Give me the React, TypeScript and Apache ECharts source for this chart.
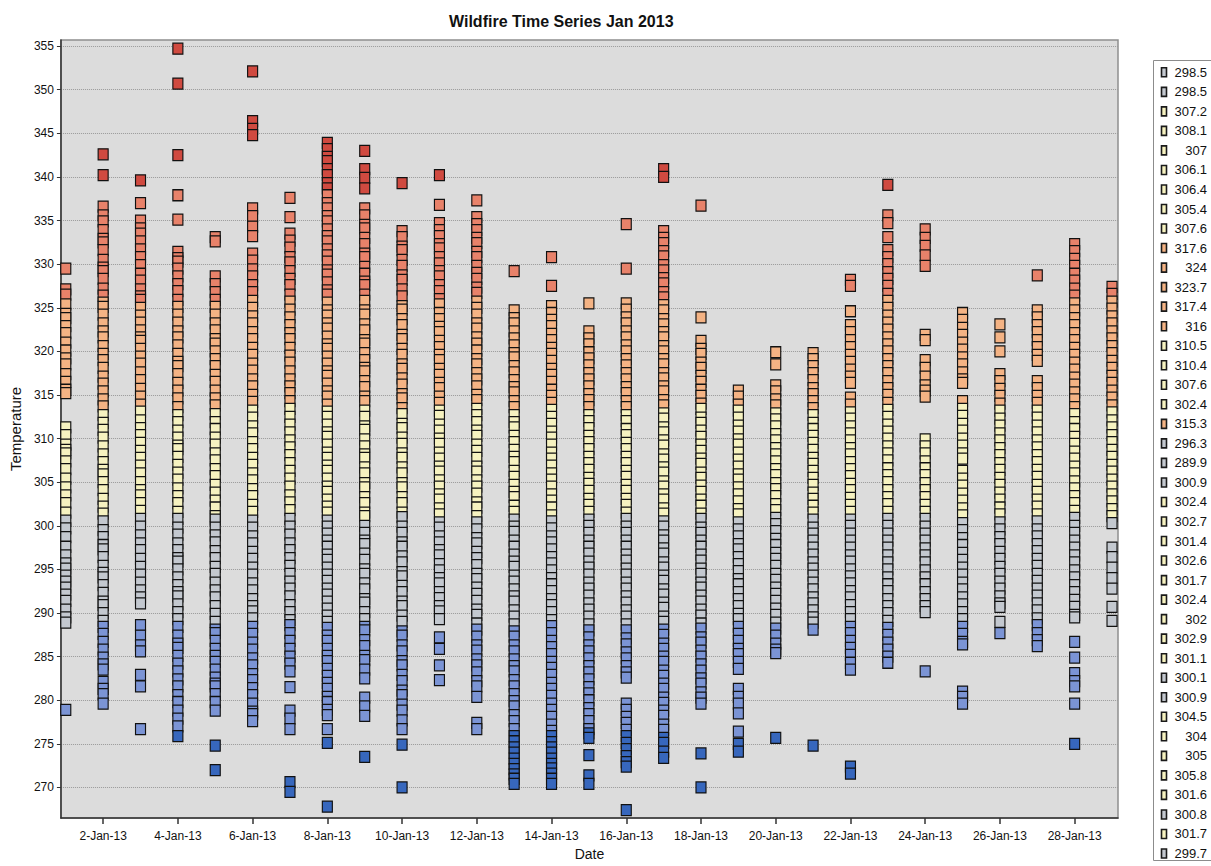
import React, { useEffect, useRef } from "react";
import * as echarts from "echarts";

// Temperature readings per day of January 2013
const jan01 = [329.5, 327.1, 326.5, 325.4, 324.3, 323.8, 322.9, 322.1, 321.0, 320.1, 319.2, 318.5, 317.4, 316.5, 315.6, 315.2, 311.3, 310.4, 309.3, 308.7, 308.3, 307.4, 306.5, 305.4, 304.4, 303.5, 302.6, 301.5, 300.6, 299.7, 298.7, 297.6, 296.6, 295.7, 295.1, 294.3, 293.6, 292.9, 292.1, 291.4, 290.4, 289.5, 288.9, 278.9];
const jan02 = [342.6, 340.2, 336.6, 335.6, 334.9, 333.9, 332.9, 332.5, 331.6, 330.5, 329.6, 329.2, 328.3, 327.2, 326.4, 325.6, 325.1, 324.2, 323.2, 322.3, 321.6, 320.6, 319.7, 319.0, 318.1, 317.1, 316.3, 315.4, 314.5, 313.7, 312.7, 311.8, 311.0, 310.1, 309.1, 308.2, 307.3, 306.4, 305.9, 305.0, 304.1, 303.1, 302.2, 301.4, 300.5, 299.5, 298.7, 297.8, 297.3, 296.4, 295.4, 294.6, 294.1, 293.2, 292.3, 291.3, 290.9, 290.0, 289.1, 288.4, 287.6, 286.7, 285.8, 284.9, 284.1, 283.5, 282.1, 281.3, 280.7, 279.6];
const jan03 = [339.6, 337.0, 335.0, 334.1, 333.5, 332.6, 331.7, 330.8, 329.9, 328.9, 328.1, 327.1, 326.3, 325.9, 325.0, 324.1, 323.3, 322.4, 321.6, 321.2, 320.3, 319.4, 318.6, 317.6, 316.7, 315.7, 314.8, 313.9, 313.1, 312.1, 311.2, 310.4, 309.5, 308.6, 307.8, 306.9, 306.0, 305.0, 304.1, 303.5, 302.6, 301.7, 300.8, 299.9, 298.9, 298.0, 297.2, 296.2, 295.3, 294.4, 293.5, 292.6, 291.8, 291.1, 288.6, 287.4, 286.3, 285.6, 282.9, 281.6, 276.7];
const jan04 = [354.7, 350.7, 342.5, 337.9, 335.1, 331.4, 330.7, 330.3, 329.5, 328.6, 327.7, 326.9, 325.9, 325.1, 324.2, 323.3, 322.3, 321.6, 320.7, 319.7, 318.8, 318.3, 317.4, 316.4, 315.5, 314.6, 313.6, 312.7, 311.9, 310.9, 310.1, 309.2, 308.8, 307.9, 307.0, 306.1, 305.3, 304.3, 303.4, 302.6, 301.6, 300.8, 299.8, 299.0, 298.0, 297.2, 296.3, 295.9, 295.0, 294.1, 293.2, 292.4, 291.9, 291.0, 290.1, 289.3, 288.4, 287.4, 286.5, 286.0, 285.1, 284.2, 283.3, 282.4, 281.6, 280.6, 279.8, 278.8, 277.9, 277.0, 275.9];
const jan05 = [333.1, 332.6, 328.6, 327.7, 326.8, 325.9, 325.1, 324.2, 323.2, 322.4, 321.4, 320.9, 320.0, 319.1, 318.3, 317.3, 316.5, 315.5, 314.6, 313.8, 312.8, 311.9, 311.1, 310.1, 309.3, 308.3, 307.5, 306.5, 305.7, 304.7, 303.8, 302.9, 302.1, 301.1, 300.7, 299.8, 298.9, 298.1, 297.1, 296.3, 295.3, 294.5, 293.5, 292.6, 291.8, 290.8, 289.9, 289.0, 288.1, 287.7, 286.8, 285.9, 285.1, 284.4, 283.5, 282.6, 281.9, 281.6, 280.7, 279.8, 278.8, 274.8, 272.0];
const jan06 = [352.1, 346.4, 345.5, 344.8, 336.4, 335.5, 334.3, 333.2, 331.2, 330.4, 329.4, 328.6, 327.6, 326.8, 325.8, 325.0, 324.0, 323.2, 322.2, 321.4, 320.4, 319.6, 318.6, 317.8, 316.8, 316.0, 315.0, 314.2, 313.2, 312.4, 311.4, 310.6, 309.6, 308.8, 307.8, 307.0, 306.0, 305.2, 304.2, 303.4, 302.4, 301.6, 300.6, 299.8, 298.8, 298.0, 297.0, 296.2, 295.2, 294.4, 293.4, 292.6, 291.6, 290.8, 290.2, 289.4, 288.4, 287.6, 286.6, 285.8, 284.8, 284.0, 283.0, 282.3, 281.4, 280.6, 279.6, 278.7, 278.4, 277.6];
const jan07 = [337.6, 335.4, 333.5, 332.7, 331.9, 330.8, 330.2, 329.2, 328.3, 327.6, 326.5, 325.7, 324.8, 323.9, 323.0, 322.1, 321.4, 320.4, 319.5, 318.7, 317.7, 316.8, 316.0, 315.2, 314.3, 313.4, 312.5, 311.6, 310.7, 309.8, 309.0, 308.1, 307.2, 306.3, 305.4, 304.5, 303.5, 302.7, 301.8, 300.8, 299.9, 299.0, 298.0, 297.2, 296.3, 295.4, 294.5, 293.6, 292.8, 291.9, 290.9, 290.1, 289.2, 288.6, 287.7, 286.8, 285.9, 285.0, 284.2, 283.3, 281.5, 278.8, 277.9, 276.7, 270.6, 269.5];
const jan08 = [343.9, 343.2, 342.3, 341.8, 340.9, 340.2, 339.3, 338.7, 337.9, 337.0, 336.4, 335.5, 334.9, 334.0, 333.2, 332.6, 331.7, 331.0, 330.3, 329.3, 328.8, 327.9, 327.0, 326.5, 325.6, 324.7, 324.1, 323.2, 322.6, 321.7, 320.8, 320.3, 319.4, 318.6, 317.7, 317.2, 316.3, 315.4, 314.8, 313.9, 313.1, 312.5, 311.6, 310.7, 310.2, 309.3, 308.4, 307.8, 306.9, 306.3, 305.4, 304.5, 303.9, 303.0, 302.2, 301.5, 300.6, 299.9, 299.1, 298.3, 297.6, 296.7, 296.1, 295.2, 294.4, 293.7, 292.8, 292.1, 291.3, 290.5, 289.7, 289.0, 288.3, 287.4, 286.8, 285.9, 285.1, 284.5, 283.6, 282.8, 282.0, 281.3, 280.4, 279.8, 278.9, 278.3, 276.7, 275.1, 267.8];
const jan09 = [343.0, 340.9, 339.9, 338.7, 336.4, 335.6, 334.5, 334.1, 333.0, 332.3, 331.2, 330.8, 329.7, 328.9, 328.0, 327.6, 326.5, 325.8, 324.7, 324.2, 323.1, 322.4, 321.3, 320.9, 319.8, 319.0, 318.1, 317.7, 316.6, 315.9, 314.8, 314.3, 313.2, 312.5, 311.4, 311.0, 309.9, 309.1, 308.2, 307.8, 306.7, 306.0, 304.9, 304.4, 303.3, 302.6, 301.5, 301.1, 300.0, 299.2, 298.3, 297.9, 296.8, 296.1, 295.0, 294.5, 293.4, 292.7, 291.6, 291.2, 290.1, 289.3, 288.4, 288.0, 286.9, 286.2, 285.1, 284.6, 283.5, 282.5, 280.3, 279.3, 278.2, 273.5];
const jan10 = [339.3, 333.8, 333.1, 332.0, 331.6, 330.5, 329.8, 328.7, 328.2, 327.1, 326.3, 325.2, 324.8, 323.7, 323.0, 321.9, 321.4, 320.3, 319.6, 318.5, 318.0, 316.9, 316.2, 315.1, 314.6, 313.5, 312.8, 311.7, 311.2, 310.1, 309.4, 308.3, 307.8, 306.7, 306.0, 304.9, 304.4, 303.3, 302.6, 301.5, 301.0, 299.9, 299.2, 298.1, 297.6, 296.5, 295.8, 294.7, 294.2, 293.1, 292.4, 291.3, 290.8, 289.7, 289.0, 287.9, 287.4, 286.3, 285.6, 284.5, 284.0, 282.9, 282.2, 281.1, 280.6, 279.5, 278.8, 277.7, 276.7, 274.9, 270.0];
const jan11 = [340.2, 336.8, 334.7, 333.9, 333.2, 332.3, 331.8, 330.8, 330.1, 329.2, 328.6, 327.6, 326.9, 326.0, 325.4, 324.4, 323.7, 322.8, 322.2, 321.2, 320.5, 319.6, 319.0, 318.0, 317.3, 316.4, 315.8, 314.8, 314.1, 313.2, 312.6, 311.6, 310.9, 310.0, 309.4, 308.4, 307.7, 306.8, 306.2, 305.2, 304.5, 303.6, 303.0, 302.0, 301.3, 300.4, 299.8, 298.8, 298.1, 297.2, 296.6, 295.6, 294.9, 294.0, 293.4, 292.4, 291.7, 290.8, 290.2, 289.3, 287.2, 285.9, 284.0, 282.3];
const jan12 = [337.3, 335.4, 334.6, 333.9, 333.0, 332.4, 331.4, 330.8, 329.8, 329.0, 328.3, 327.3, 326.7, 325.7, 325.0, 324.2, 323.2, 322.6, 321.6, 320.9, 320.1, 319.1, 318.5, 317.5, 316.8, 316.0, 315.0, 314.4, 313.4, 312.7, 311.9, 310.9, 310.3, 309.3, 308.6, 307.8, 306.8, 306.2, 305.2, 304.5, 303.7, 302.7, 302.1, 301.1, 300.4, 299.6, 298.6, 298.0, 297.0, 296.3, 295.5, 294.5, 293.9, 292.9, 292.2, 291.4, 290.4, 289.8, 288.8, 288.1, 287.3, 286.3, 285.7, 284.7, 284.0, 283.2, 282.2, 281.6, 280.4, 277.4, 276.7];
const jan13 = [329.2, 324.7, 323.8, 323.2, 322.3, 321.5, 320.7, 319.8, 319.3, 318.3, 317.6, 316.7, 315.9, 315.3, 314.3, 313.6, 312.7, 311.9, 311.3, 310.3, 309.6, 308.7, 307.9, 307.3, 306.3, 305.6, 304.7, 303.9, 303.3, 302.3, 301.6, 300.7, 299.9, 299.3, 298.3, 297.6, 296.7, 295.9, 295.3, 294.3, 293.6, 292.7, 291.9, 291.3, 290.3, 289.6, 288.7, 287.9, 287.3, 286.3, 285.6, 284.7, 283.9, 283.3, 282.3, 281.6, 280.7, 279.9, 279.3, 278.3, 277.6, 276.7, 275.9, 275.3, 274.6, 274.0, 273.3, 272.7, 272.1, 271.5, 271.0, 270.4];
const jan14 = [330.8, 327.5, 325.2, 324.4, 323.6, 322.9, 322.0, 321.3, 320.4, 319.7, 318.9, 318.0, 317.3, 316.5, 315.6, 314.9, 314.1, 313.3, 312.5, 311.7, 310.8, 310.1, 309.3, 308.4, 307.7, 306.9, 306.0, 305.3, 304.5, 303.6, 302.9, 302.1, 301.2, 300.5, 299.7, 298.8, 298.1, 297.3, 296.4, 295.7, 294.9, 294.0, 293.3, 292.5, 291.6, 290.9, 290.1, 289.2, 288.5, 287.7, 286.8, 286.1, 285.3, 284.4, 283.7, 282.9, 282.0, 281.3, 280.5, 279.6, 278.9, 278.1, 277.2, 276.5, 275.9, 275.2, 274.6, 274.0, 273.3, 272.7, 272.2, 271.6, 271.0, 270.4];
const jan15 = [325.5, 322.3, 321.5, 320.8, 319.9, 319.2, 318.4, 317.5, 316.8, 316.0, 315.1, 314.4, 313.6, 312.7, 312.0, 311.2, 310.3, 309.6, 308.8, 307.9, 307.2, 306.4, 305.5, 304.8, 304.0, 303.1, 302.4, 301.6, 300.7, 300.0, 299.2, 298.3, 297.6, 296.8, 295.9, 295.2, 294.4, 293.5, 292.8, 292.0, 291.1, 290.4, 289.6, 288.7, 288.0, 287.2, 286.3, 285.6, 284.8, 283.9, 283.2, 282.4, 281.5, 280.8, 280.0, 279.1, 278.4, 277.6, 276.7, 276.2, 275.7, 273.7, 271.4, 270.4];
const jan16 = [334.6, 329.5, 325.5, 324.8, 323.9, 323.2, 322.3, 321.6, 320.7, 320.0, 319.1, 318.4, 317.5, 316.8, 315.9, 315.2, 314.3, 313.6, 312.7, 312.0, 311.1, 310.4, 309.5, 308.8, 307.9, 307.2, 306.3, 305.6, 304.7, 304.0, 303.1, 302.4, 301.5, 300.8, 299.9, 299.2, 298.3, 297.6, 296.7, 296.0, 295.1, 294.4, 293.5, 292.8, 291.9, 291.2, 290.3, 289.6, 288.7, 288.0, 287.1, 286.4, 285.5, 284.8, 283.9, 283.2, 282.6, 279.6, 278.9, 278.1, 277.4, 276.6, 275.9, 275.1, 274.4, 273.6, 272.9, 272.4, 267.4];
const jan17 = [340.9, 340.0, 333.8, 333.0, 332.4, 331.5, 330.9, 329.9, 329.3, 328.4, 327.8, 326.8, 326.2, 325.3, 324.7, 323.7, 323.1, 322.2, 321.6, 320.6, 320.0, 319.1, 318.5, 317.5, 316.9, 316.0, 315.4, 314.4, 313.8, 312.9, 312.3, 311.3, 310.7, 309.8, 309.2, 308.2, 307.6, 306.7, 306.1, 305.1, 304.5, 303.6, 303.0, 302.0, 301.4, 300.5, 299.9, 298.9, 298.3, 297.4, 296.8, 295.8, 295.2, 294.3, 293.7, 292.7, 292.1, 291.2, 290.6, 289.6, 289.0, 288.1, 287.5, 286.5, 285.9, 285.0, 284.4, 283.4, 282.8, 281.9, 281.3, 280.3, 279.7, 278.8, 278.2, 277.2, 276.6, 275.7, 275.1, 274.1, 273.4];
const jan18 = [336.7, 323.9, 321.2, 320.3, 319.7, 318.7, 318.1, 317.2, 316.5, 315.6, 314.9, 314.0, 313.4, 312.4, 311.8, 310.9, 310.2, 309.3, 308.6, 307.7, 307.1, 306.1, 305.5, 304.6, 303.9, 303.0, 302.3, 301.4, 300.8, 299.8, 299.2, 298.3, 297.6, 296.7, 296.0, 295.1, 294.5, 293.5, 292.9, 292.0, 291.3, 290.4, 289.7, 288.8, 288.2, 287.2, 286.6, 285.7, 285.0, 284.1, 283.4, 282.5, 281.9, 280.9, 280.3, 279.6, 273.9, 270.0];
const jan19 = [315.5, 314.8, 313.9, 313.2, 312.4, 311.5, 310.8, 309.9, 309.3, 308.4, 307.6, 306.8, 305.9, 305.3, 304.4, 303.6, 302.8, 301.9, 301.3, 300.4, 299.6, 298.8, 297.9, 297.3, 296.4, 295.6, 294.8, 293.9, 293.3, 292.4, 291.6, 290.8, 289.9, 289.3, 288.4, 287.6, 286.8, 285.9, 285.3, 284.4, 283.6, 281.3, 280.4, 279.6, 278.5, 276.4, 275.0, 274.1];
const jan20 = [319.9, 318.5, 316.1, 315.4, 314.5, 313.8, 312.9, 312.2, 311.4, 310.5, 309.8, 308.9, 308.2, 307.4, 306.5, 305.8, 304.9, 304.2, 303.4, 302.5, 301.8, 300.9, 300.2, 299.4, 298.5, 297.8, 296.9, 296.2, 295.4, 294.5, 293.8, 292.9, 292.2, 291.4, 290.5, 289.8, 288.9, 288.2, 287.4, 286.5, 285.8, 285.4, 275.7];
const jan21 = [319.8, 319.1, 318.3, 317.5, 316.7, 315.8, 315.1, 314.3, 313.5, 312.7, 311.8, 311.1, 310.3, 309.5, 308.7, 307.8, 307.1, 306.3, 305.5, 304.7, 303.8, 303.1, 302.3, 301.5, 300.7, 299.8, 299.1, 298.3, 297.5, 296.7, 295.8, 295.1, 294.3, 293.5, 292.7, 291.8, 291.1, 290.3, 289.5, 288.9, 288.1, 274.8];
const jan22 = [328.2, 327.5, 324.6, 323.0, 322.2, 321.3, 320.5, 319.6, 318.8, 317.9, 317.1, 316.4, 314.7, 313.9, 313.0, 312.3, 311.4, 310.6, 309.8, 308.9, 308.2, 307.3, 306.5, 305.7, 304.8, 304.1, 303.2, 302.4, 301.6, 300.7, 300.0, 299.1, 298.3, 297.5, 296.6, 295.9, 295.0, 294.2, 293.4, 292.5, 291.8, 290.9, 290.1, 289.3, 288.4, 287.7, 286.8, 286.0, 285.2, 284.3, 283.5, 272.4, 271.6];
const jan23 = [339.1, 335.6, 334.7, 333.1, 331.6, 330.8, 330.0, 329.1, 328.3, 327.5, 326.6, 325.8, 325.0, 324.1, 323.3, 322.5, 321.6, 320.8, 320.0, 319.1, 318.3, 317.5, 316.6, 315.8, 315.0, 314.1, 313.3, 312.5, 311.6, 310.8, 310.0, 309.1, 308.3, 307.5, 306.6, 305.8, 305.0, 304.1, 303.3, 302.5, 301.6, 300.8, 300.0, 299.1, 298.3, 297.5, 296.6, 295.8, 295.0, 294.1, 293.3, 292.5, 291.6, 290.8, 290.0, 289.1, 288.3, 287.5, 286.6, 285.8, 285.0, 284.3];
const jan24 = [334.0, 333.0, 332.1, 331.0, 329.8, 321.9, 321.3, 319.0, 318.1, 317.1, 316.1, 315.5, 314.8, 309.9, 309.1, 308.3, 307.4, 306.6, 305.8, 304.9, 304.1, 303.3, 302.4, 301.6, 300.8, 299.9, 299.1, 298.3, 297.4, 296.6, 295.8, 294.9, 294.1, 293.3, 292.4, 291.6, 290.8, 290.1, 283.3];
const jan25 = [324.4, 323.6, 322.7, 321.9, 321.0, 320.2, 319.3, 318.5, 317.6, 316.8, 316.4, 314.3, 313.4, 312.6, 311.7, 310.9, 310.0, 309.2, 308.3, 307.7, 306.3, 305.4, 304.6, 303.7, 302.9, 302.0, 301.2, 300.3, 299.5, 298.6, 297.8, 296.9, 296.1, 295.2, 294.4, 293.5, 292.7, 291.8, 291.0, 290.1, 289.3, 288.4, 287.6, 286.7, 286.4, 281.0, 280.4, 279.6];
const jan26 = [323.1, 321.6, 320.0, 317.4, 316.6, 315.7, 314.9, 314.0, 313.2, 312.3, 311.5, 310.6, 309.8, 308.9, 308.1, 307.2, 306.4, 305.5, 304.7, 303.8, 303.0, 302.1, 301.3, 300.4, 299.6, 298.7, 297.9, 297.0, 296.2, 295.3, 294.5, 293.6, 292.8, 291.9, 291.1, 290.7, 289.0, 287.7];
const jan27 = [328.7, 324.7, 323.9, 323.0, 322.2, 321.3, 320.5, 319.6, 318.9, 316.6, 315.8, 314.9, 314.1, 313.2, 312.4, 311.5, 310.7, 309.8, 309.0, 308.1, 307.3, 306.4, 305.6, 304.7, 303.9, 303.0, 302.2, 301.3, 300.5, 299.6, 298.8, 297.9, 297.1, 296.2, 295.4, 294.5, 293.7, 292.8, 292.0, 291.1, 290.3, 289.4, 288.6, 287.7, 286.9, 286.2];
const jan28 = [332.3, 331.5, 330.6, 329.8, 328.9, 328.1, 327.2, 326.4, 325.5, 324.7, 323.8, 323.0, 322.1, 321.3, 320.4, 319.6, 318.7, 317.9, 317.0, 316.2, 315.3, 314.5, 313.6, 312.8, 311.9, 311.1, 310.2, 309.4, 308.5, 307.7, 306.8, 306.0, 305.1, 304.3, 303.4, 302.6, 301.7, 300.9, 300.0, 299.2, 298.3, 297.5, 296.6, 295.8, 294.9, 294.1, 293.2, 292.4, 291.5, 290.7, 289.8, 289.5, 286.7, 284.9, 283.1, 282.2, 281.6, 279.6, 275.0];
const jan29 = [327.4, 326.6, 325.7, 324.9, 324.0, 323.2, 322.3, 321.5, 320.6, 319.8, 318.9, 318.1, 317.2, 316.4, 315.5, 314.7, 313.8, 313.0, 312.1, 311.3, 310.4, 309.6, 308.7, 307.9, 307.0, 306.2, 305.3, 304.5, 303.6, 302.8, 301.9, 301.1, 300.3, 297.5, 296.4, 295.2, 294.0, 292.8, 290.7, 289.1];

// day of month -> readings
const dailyReadings = [
  jan01, jan02, jan03, jan04, jan05, jan06, jan07, jan08, jan09, jan10,
  jan11, jan12, jan13, jan14, jan15, jan16, jan17, jan18, jan19, jan20,
  jan21, jan22, jan23, jan24, jan25, jan26, jan27, jan28, jan29,
];

const xTickDays = [2, 4, 6, 8, 10, 12, 14, 16, 18, 20, 22, 24, 26, 28];
const yTickValues = [270, 275, 280, 285, 290, 295, 300, 305, 310, 315, 320, 325, 330, 335, 340, 345, 350, 355];

const binEdges = [276.3, 288.7, 301.1, 313.5, 325.9, 338.3];
const binColors = ["#3767bd", "#7b94d5", "#c3c8cf", "#f6f2c0", "#f4b384", "#e8826a", "#d04a40"];

const legendValues = [
  298.5, 298.5, 307.2, 308.1, 307, 306.1, 306.4, 305.4, 307.6, 317.6, 324, 323.7, 317.4, 316,
  310.5, 310.4, 307.6, 302.4, 315.3, 296.3, 289.9, 300.9, 302.4, 302.7, 301.4, 302.6, 301.7,
  302.4, 302, 302.9, 301.1, 300.1, 300.9, 304.5, 304, 305, 305.8, 301.6, 300.8, 301.7, 299.7,
];

const FONT = "'Liberation Sans', Arial, Helvetica, sans-serif";

function colorFor(v: number): string {
  let i = 0;
  while (i < binEdges.length && v >= binEdges[i]) i++;
  return binColors[i];
}

export default function App() {
  const ref = useRef<HTMLDivElement>(null);

  useEffect(() => {
    document.body.style.margin = "0";
    if (!ref.current) return;
    const chart = echarts.init(ref.current, undefined, { renderer: "svg" });

    const points: number[][] = [];
    dailyReadings.forEach((arr, i) => {
      arr.forEach((t) => points.push([i + 1, t]));
    });

    const legendTop = 72.3;
    const legendStep = 19.53;
    const legendGraphics: any[] = [
      {
        type: "rect",
        shape: { x: 1153.5, y: 60.5, width: 80, height: 800 },
        style: { fill: "#ffffff", stroke: "#8c8c8c", lineWidth: 1 },
        z: 10,
      },
    ];
    legendValues.forEach((v, i) => {
      const cy = legendTop + i * legendStep;
      legendGraphics.push({
        type: "rect",
        shape: { x: 1161.5, y: cy - 4.5, width: 5, height: 9 },
        style: { fill: colorFor(v), stroke: "#1a1a1a", lineWidth: 1.6 },
        z: 11,
      });
      legendGraphics.push({
        type: "text",
        x: 1207,
        y: cy,
        style: {
          text: String(v),
          fill: "#111",
          font: `13px ${FONT}`,
          align: "right",
          verticalAlign: "middle",
        },
        z: 11,
      });
    });

    chart.setOption({
      animation: false,
      backgroundColor: "#ffffff",
      title: {
        text: "Wildfire Time Series Jan 2013",
        left: 444,
        top: 8,
        textStyle: { fontFamily: FONT, fontSize: 16, fontWeight: "bold", color: "#111" },
      },
      grid: {
        left: 50,
        right: 93,
        top: 40,
        bottom: 46,
        show: true,
        backgroundColor: "#dcdcdc",
        borderColor: "#8f8f8f",
        borderWidth: 1.5,
      },
      xAxis: {
        type: "value",
        min: 0.87,
        max: 29.16,
        name: "Date",
        nameLocation: "middle",
        nameGap: 29,
        nameTextStyle: { fontFamily: FONT, fontSize: 14, color: "#111" },
        axisLine: { show: true, onZero: false, lineStyle: { color: "#333", width: 1.5 } },
        axisTick: { show: true, length: 6, customValues: xTickDays, lineStyle: { color: "#333", width: 1.5 } },
        axisLabel: {
          customValues: xTickDays,
          formatter: (v: number) => `${v}-Jan-13`,
          margin: 12,
          fontFamily: FONT,
          fontSize: 12,
          color: "#111",
        },
        splitLine: { show: false },
      },
      yAxis: {
        type: "value",
        min: 266.5,
        max: 355.7,
        name: "Temperature",
        nameLocation: "middle",
        nameGap: 29,
        nameRotate: 90,
        nameTextStyle: { fontFamily: FONT, fontSize: 15, color: "#111" },
        axisLine: { show: true, onZero: false, lineStyle: { color: "#333", width: 1.5 } },
        axisTick: { show: true, length: 4, customValues: yTickValues, lineStyle: { color: "#333", width: 1 } },
        axisLabel: {
          customValues: yTickValues,
          margin: 7,
          fontFamily: FONT,
          fontSize: 12,
          color: "#111",
        },
        splitLine: { show: true, lineStyle: { type: "dotted", color: "#999999", width: 1 } },
      },
      series: [
        {
          type: "scatter",
          symbol: "rect",
          symbolSize: [10, 11],
          data: points,
          silent: true,
          itemStyle: {
            color: (p: any) => colorFor(p.value[1]),
            borderColor: "#111111",
            borderWidth: 1.2,
            opacity: 1,
          },
        },
      ],
      graphic: legendGraphics,
    });

    return () => chart.dispose();
  }, []);

  return <div ref={ref} style={{ width: 1211, height: 866 }} />;
}
